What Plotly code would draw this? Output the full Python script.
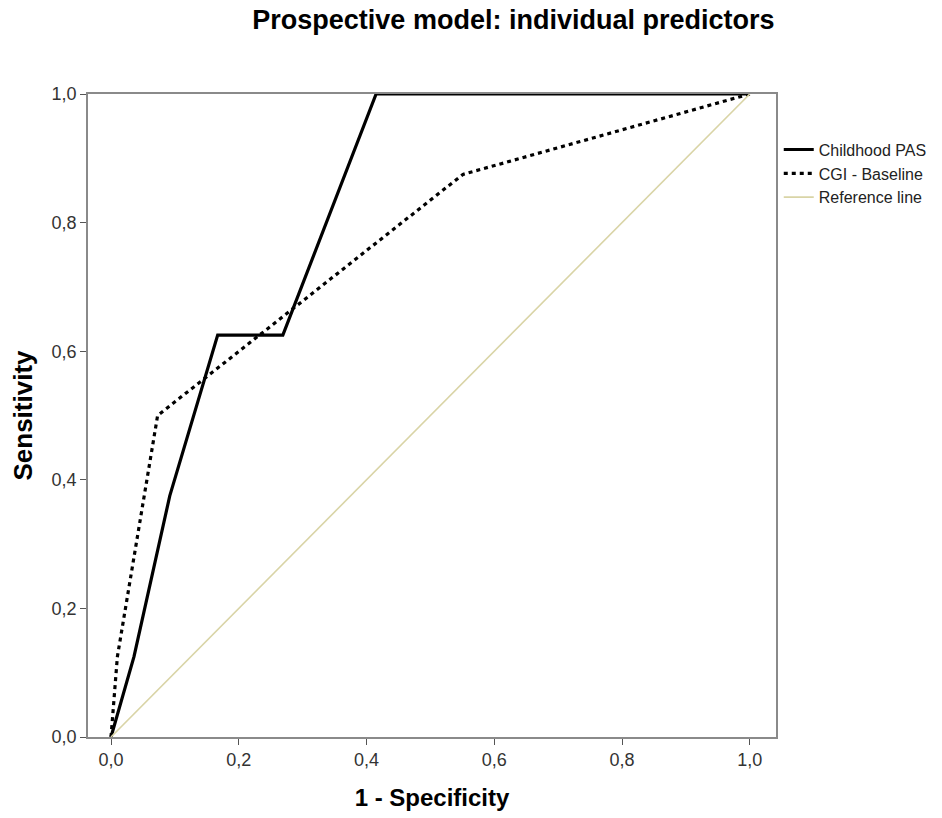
import plotly.graph_objects as go

pas_x = [0.0, 0.036, 0.092, 0.167, 0.269, 0.415, 1.0]
pas_y = [0.0, 0.125, 0.375, 0.625, 0.625, 1.0, 1.0]

cgi_x = [0.0, 0.010, 0.073, 0.551, 1.0]
cgi_y = [0.0, 0.125, 0.5, 0.875, 1.0]

ref_x = [0.0, 1.0]
ref_y = [0.0, 1.0]

tick_vals = [0.0, 0.2, 0.4, 0.6, 0.8, 1.0]
tick_text = ["0,0", "0,2", "0,4", "0,6", "0,8", "1,0"]

fig = go.Figure()
fig.add_trace(go.Scatter(x=pas_x, y=pas_y, mode="lines", name="Childhood PAS",
                         line=dict(color="black", width=3.2)))
fig.add_trace(go.Scatter(x=cgi_x, y=cgi_y, mode="lines", name="CGI - Baseline",
                         line=dict(color="black", width=3.2, dash="4px,4px")))
fig.add_trace(go.Scatter(x=ref_x, y=ref_y, mode="lines", name="Reference line",
                         line=dict(color="#d9d4a6", width=1.6)))

narrow = "Liberation Sans Narrow, Arial Narrow, sans-serif"

fig.update_layout(
    width=942, height=818,
    paper_bgcolor="white", plot_bgcolor="white",
    margin=dict(l=88, r=166, t=94, b=81, autoexpand=False),
    font=dict(family="Liberation Sans, Arial, sans-serif", color="black"),
    title=dict(text="<b>Prospective model: individual predictors</b>",
               x=0.545, xanchor="center", y=0.976, yanchor="middle",
               font=dict(size=27, color="black")),
    showlegend=True,
    legend=dict(x=1.004, xanchor="left", y=0.94, yanchor="top",
                font=dict(size=16, color="#222"), bgcolor="rgba(0,0,0,0)",
                itemwidth=30, tracegroupgap=0),
    xaxis=dict(range=[-0.036, 1.041], tickvals=tick_vals, ticktext=tick_text,
               showgrid=False, zeroline=False, showline=True, mirror=True,
               linecolor="#8a8a8a", linewidth=1.5, ticks="outside", ticklen=6,
               tickcolor="#555", tickfont=dict(size=18, color="#333", family=narrow),
               title=dict(text="<b>1 - Specificity</b>", font=dict(size=24), standoff=20)),
    yaxis=dict(range=[0, 1], tickvals=tick_vals, ticktext=tick_text,
               showgrid=False, zeroline=False, showline=True, mirror=True,
               linecolor="#8a8a8a", linewidth=1.5, ticks="outside", ticklen=6,
               tickcolor="#555", tickfont=dict(size=18, color="#333", family=narrow),
               title=dict(text="<b>Sensitivity</b>", font=dict(size=26), standoff=12)),
)

fig.write_html("out.html")
